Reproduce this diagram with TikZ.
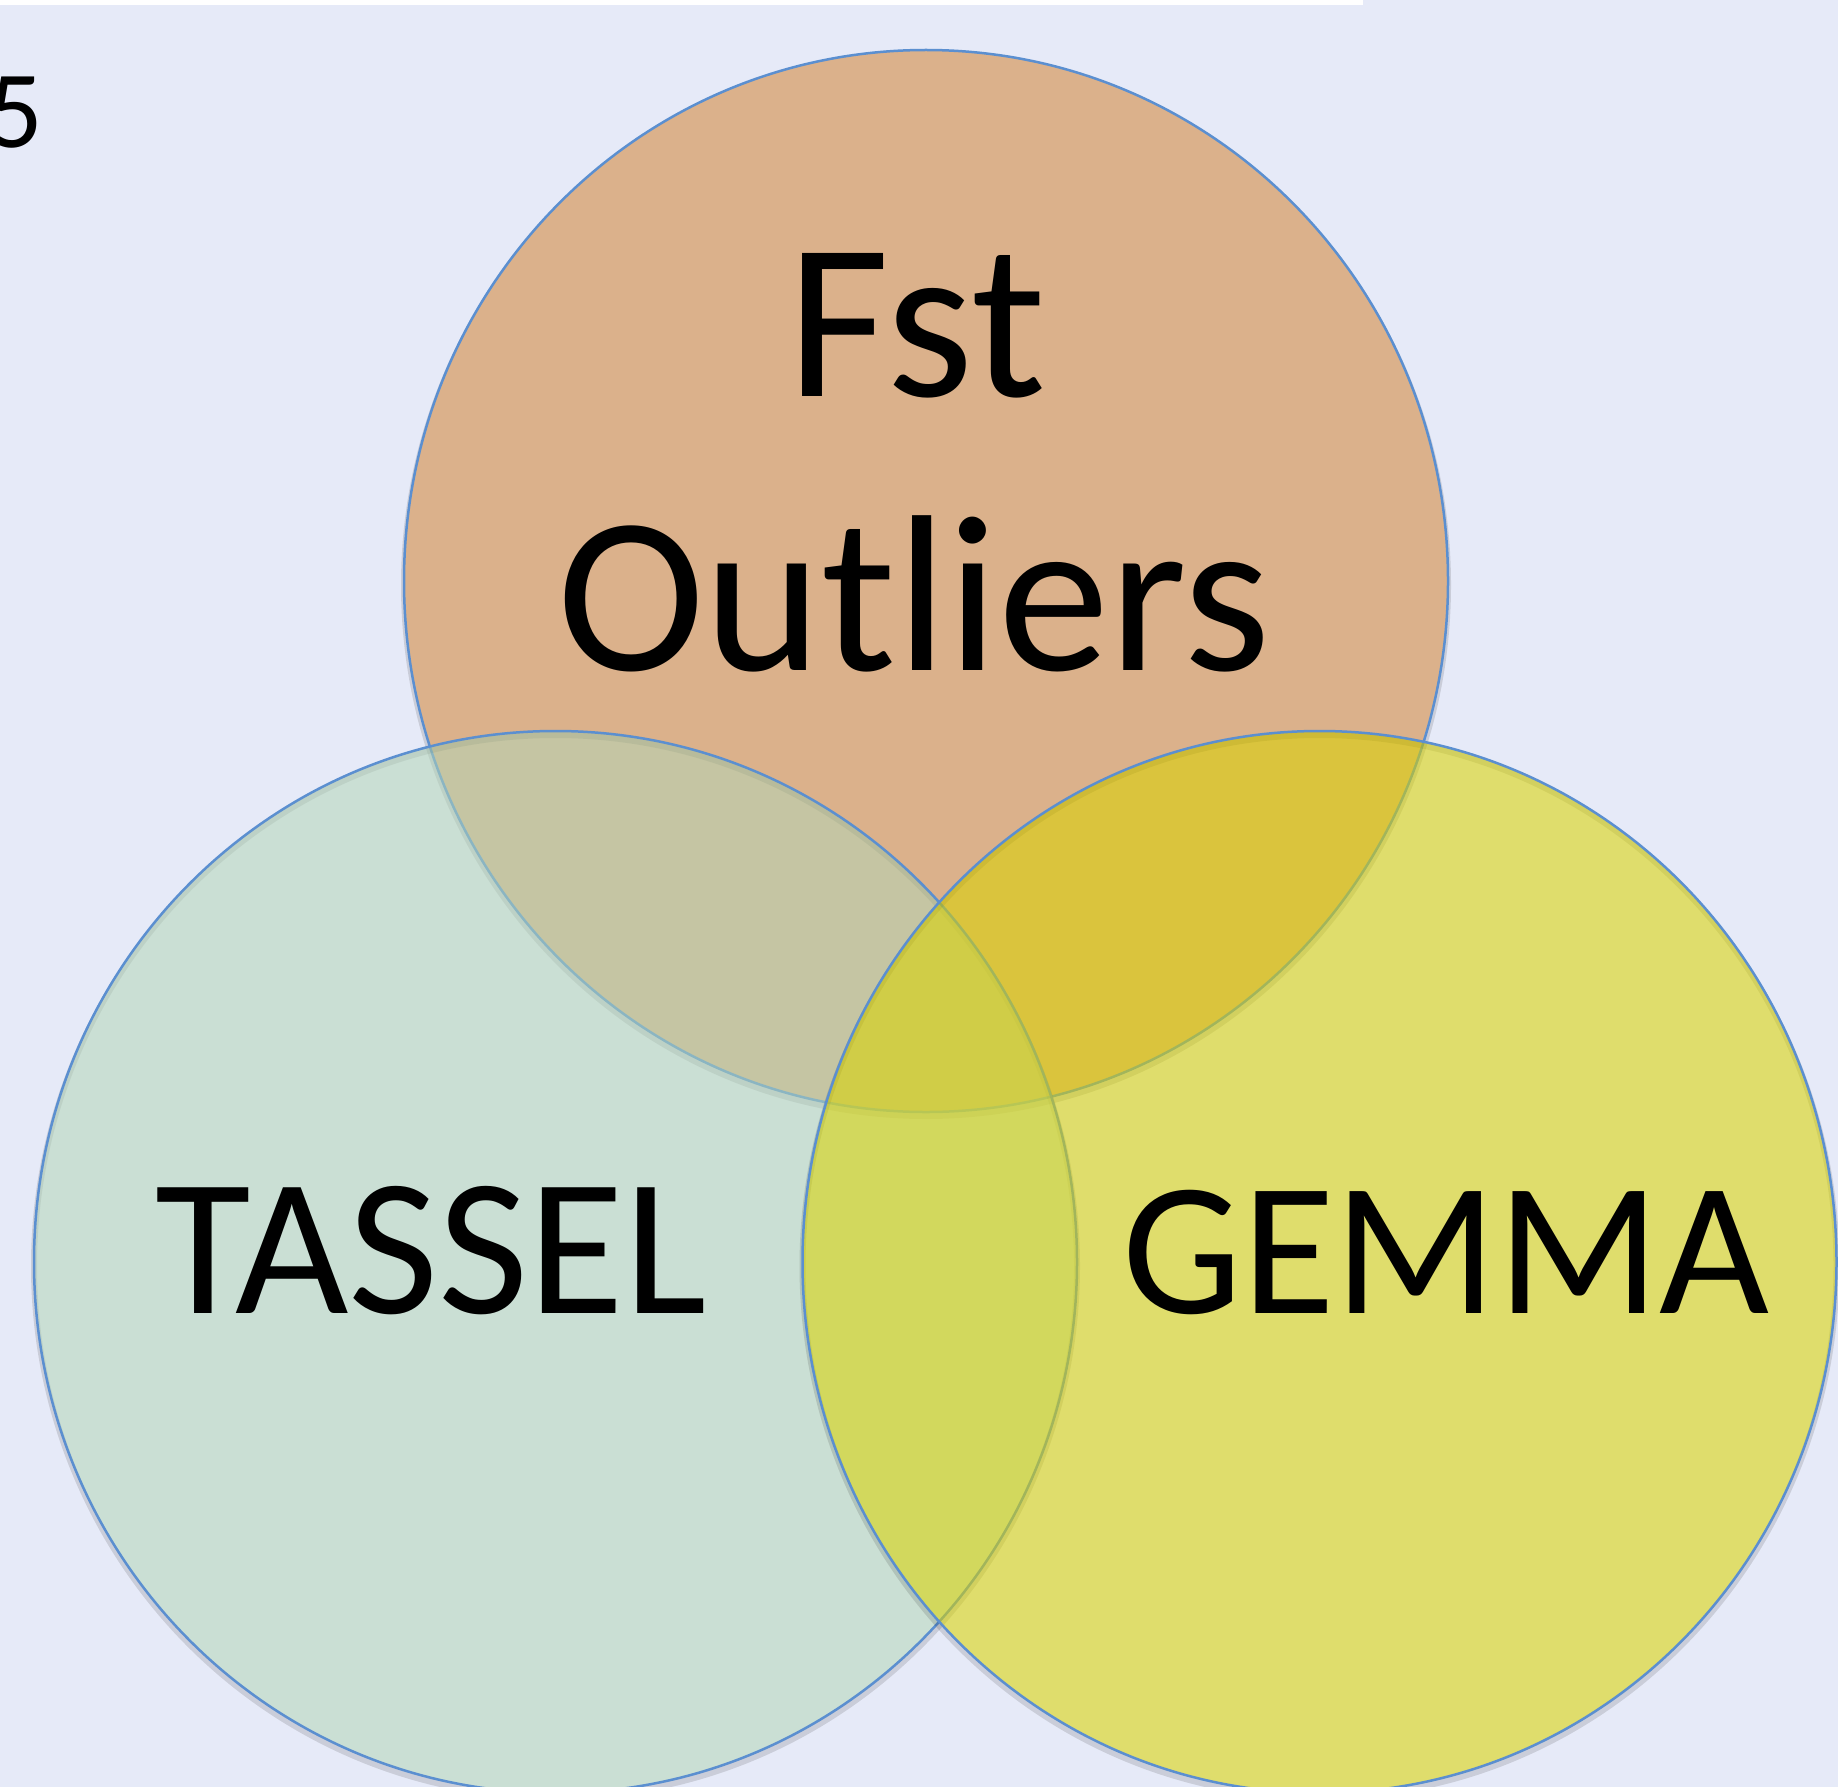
\documentclass[tikz,border=0pt]{standalone}
\usepackage{fontspec}
\setmainfont{Carlito}
\usetikzlibrary{shapes.geometric}

\definecolor{bg}{HTML}{E6EAF8}
\definecolor{fstfill}{HTML}{DBB18B}
\definecolor{tasselfill}{HTML}{B3D6B7}
\definecolor{gemmafill}{HTML}{DAD400}
\definecolor{rim}{HTML}{5B8FD0}

\tikzset{
  venn/.style={ellipse, inner sep=0pt, draw=rim, line width=2.5pt,
    preaction={draw=black, draw opacity=0.12, line width=6pt,
      transform canvas={yshift=-4pt}}},
  setlabel/.style={anchor=base, inner sep=0pt, text=black},
}

\begin{document}
\begin{tikzpicture}[x=1pt, y=-1pt]
\useasboundingbox (0,0) rectangle (1838,1787);
\clip (0,0) rectangle (1838,1787);
\fill[bg] (0,0) rectangle (1838,1787);
\fill[white] (0,0) rectangle (1363,5);

% the three sets, lower ones drawn first
\node[venn, fill=fstfill, minimum width=1044pt, minimum height=1062pt]
  (fst) at (926,581) {};
\node[venn, fill=tasselfill, fill opacity=0.55, minimum width=1043pt, minimum height=1062pt]
  (tassel) at (555.5,1262) {};
\node[venn, fill=gemmafill, fill opacity=0.56, minimum width=1034pt, minimum height=1062pt]
  (gemma) at (1319.5,1262) {};

% set names
\node[setlabel, font=\fontsize{223}{268}\selectfont] (fst-name1) at (917,396) {Fst};
\node[setlabel, font=\fontsize{223}{268}\selectfont] (fst-name2) at (914,670.5) {Outliers};
\node[setlabel, font=\fontsize{196}{235}\selectfont] (tassel-name) at (431,1313) {TASSEL};
\node[setlabel, font=\fontsize{190}{228}\selectfont] (gemma-name) at (1446,1313) {GEMMA};

% page number at the left edge
\node[anchor=base east, inner sep=0pt, font=\fontsize{110}{132}\selectfont]
  (pagenum) at (43,148) {5};
\end{tikzpicture}
\end{document}
